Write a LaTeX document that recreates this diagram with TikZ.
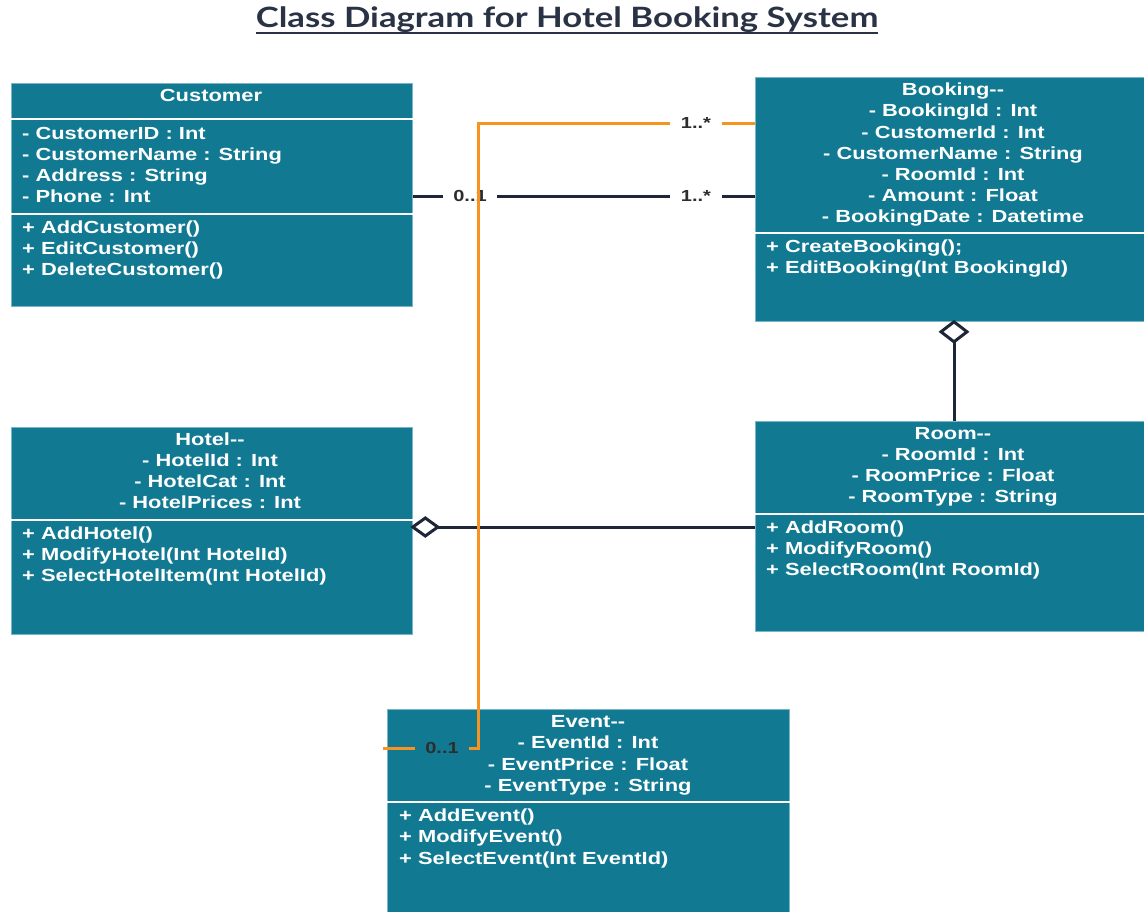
\documentclass[tikz,border=0pt]{standalone}
\usepackage{fontspec}
\newfontfamily\boxfont[FakeStretch=1.25]{Liberation Sans}
\newfontfamily\titlefont[FakeStretch=1.24]{Lato}

\definecolor{boxteal}{RGB}{17,122,146}
\definecolor{boxedge}{RGB}{120,182,200}
\definecolor{linenavy}{RGB}{31,38,56}
\definecolor{lineorange}{RGB}{247,147,30}
\definecolor{titleink}{RGB}{42,51,70}
\definecolor{labelink}{RGB}{45,45,45}

\tikzset{
  classbox/.style={draw=boxedge, line width=0.8pt, fill=boxteal, inner sep=0pt, anchor=north west},
  sepline/.style={draw=white, line width=2.4pt},
  rowtext/.style={text=white, inner sep=0pt, font=\boxfont\bfseries\fontsize{17.5}{21}\selectfont},
  assoc/.style={draw=linenavy, line width=3pt},
  orangelink/.style={draw=lineorange, line width=3pt},
  mult/.style={text=labelink, inner xsep=10.5pt, inner ysep=2pt, font=\boxfont\bfseries\fontsize{16}{18}\selectfont},
  aggdiamond/.style={draw=linenavy, line width=3pt, fill=white, line join=miter},
}

% one text row per line, baselines 21.2 apart
\newcommand\umlrows[5]{%
  \foreach \rowtxt [count=\k from 0] in {#5}
    \node[rowtext, anchor=#1] (#4\k) at ({#2},{#3+21.2*\k}) {\rowtxt};%
}

\begin{document}
\begin{tikzpicture}[x=1pt, y=-1pt]
\useasboundingbox (0,0) rectangle (1144,911);

% title
\node[font=\titlefont\bfseries\fontsize{28}{32}\selectfont, text=titleink, inner sep=0pt, anchor=base] (title) at (567,27) {Class Diagram for Hotel Booking System};
\draw[titleink, line width=1.6pt] ([yshift=-6pt]title.base west) -- ([yshift=-6pt]title.base east);

% class boxes
\node[classbox, minimum width=401pt, minimum height=223pt] (customer) at (11,83) {};
\node[classbox, minimum width=400pt, minimum height=244pt] (booking) at (755,77) {};
\node[classbox, minimum width=401pt, minimum height=207pt] (hotel) at (11,427) {};
\node[classbox, minimum width=400pt, minimum height=210pt] (room) at (755,421) {};
\node[classbox, minimum width=402pt, minimum height=215pt] (event) at (387,709) {};

% compartment separators
\draw[sepline] (customer.west |- 0,119) -- (customer.east |- 0,119);
\draw[sepline] (customer.west |- 0,214) -- (customer.east |- 0,214);
\draw[sepline] (booking.west |- 0,233) -- (booking.east |- 0,233);
\draw[sepline] (hotel.west |- 0,520) -- (hotel.east |- 0,520);
\draw[sepline] (room.west |- 0,514) -- (room.east |- 0,514);
\draw[sepline] (event.west |- 0,802) -- (event.east |- 0,802);

% Customer
\node[rowtext, anchor=base] (custT) at (211,101.7) {Customer};
\umlrows{base west}{22}{139.3}{custA}{{- CustomerID : Int},{- CustomerName : String},{- Address : String},{- Phone : Int}}
\umlrows{base west}{22}{233.3}{custM}{{+ AddCustomer()},{+ EditCustomer()},{+ DeleteCustomer()}}

% Booking
\umlrows{base}{953}{95.7}{bookA}{{Booking-{}-},{- BookingId : Int},{- CustomerId : Int},{- CustomerName : String},{- RoomId : Int},{- Amount : Float},{- BookingDate : Datetime}}
\umlrows{base west}{766}{252.7}{bookM}{{+ CreateBooking();},{+ EditBooking(Int BookingId)}}

% Hotel
\umlrows{base}{210}{445}{hotA}{{Hotel-{}-},{- HotelId : Int},{- HotelCat : Int},{- HotelPrices : Int}}
\umlrows{base west}{22}{539.3}{hotM}{{+ AddHotel()},{+ ModifyHotel(Int HotelId)},{+ SelectHotelItem(Int HotelId)}}

% Room
\umlrows{base}{953}{439}{roomA}{{Room-{}-},{- RoomId : Int},{- RoomPrice : Float},{- RoomType : String}}
\umlrows{base west}{766}{533.3}{roomM}{{+ AddRoom()},{+ ModifyRoom()},{+ SelectRoom(Int RoomId)}}

% Event
\umlrows{base}{588}{727.7}{evA}{{Event-{}-},{- EventId : Int},{- EventPrice : Float},{- EventType : String}}
\umlrows{base west}{399}{821.7}{evM}{{+ AddEvent()},{+ ModifyEvent()},{+ SelectEvent(Int EventId)}}

% Customer -- Booking association
\draw[assoc] (customer.east |- 0,196) -- (booking.west |- 0,196);
\node[mult, fill=white] (mCust) at (470,196) {0..1};
\node[mult, fill=white] (mBook) at (696,196) {1..*};

% Booking <>-- Room aggregation
\draw[assoc] (room.north -| 954,0) -- ([yshift=-20pt]booking.south -| 954,0);
\draw[aggdiamond] (booking.south -| 954,0) -- ++(13,10) -- ++(-13,10) -- ++(-13,-10) -- cycle;

% Hotel <>-- Room aggregation
\draw[assoc] (room.west |- 0,527) -- ([xshift=25pt]hotel.east |- 0,527);
\draw[aggdiamond] (hotel.east |- 0,527) -- ++(12.5,-9) -- ++(12.5,9) -- ++(-12.5,9) -- cycle;

% Booking -- Event association (orange)
\coordinate (evEnd) at (383,748);
\draw[orangelink] (booking.west |- 0,123) -- (478,123) -- (478,748) -- (evEnd);
\node[mult, fill=white] (mBook2) at (696,123) {1..*};
\node[mult, fill=boxteal] (mEvent) at (442,748) {0..1};
\end{tikzpicture}
\end{document}
